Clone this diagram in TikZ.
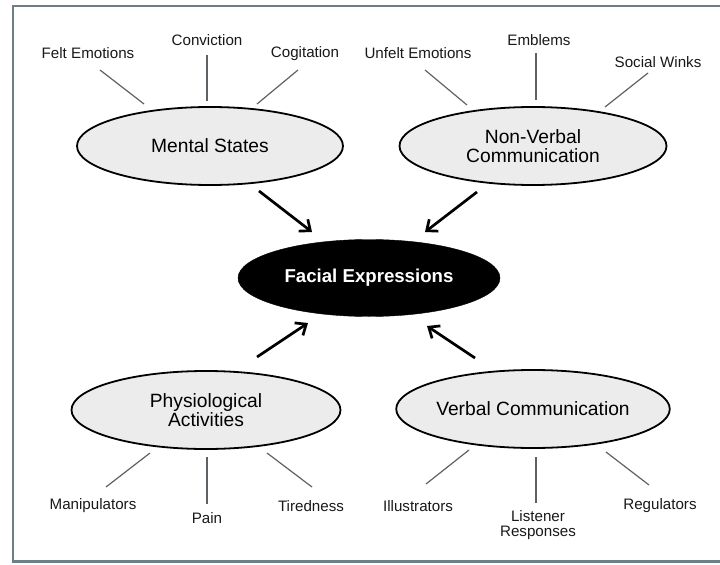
\documentclass[tikz,border=0pt]{standalone}
\usepackage{fontspec}
\setmainfont{Liberation Sans}
\usetikzlibrary{shapes.geometric,arrows.meta}
\begin{document}
\begin{tikzpicture}[x=1bp,y=-1bp,
  big/.style={ellipse,draw=black,line width=1.8bp,fill=gray!15,minimum width=#1,minimum height=78bp,inner sep=0pt,align=center,font=\fontsize{19.3}{19.5}\selectfont},
  lab/.style={font=\fontsize{15.2}{12}\selectfont,text=black!90,align=center,inner sep=0pt},
  spoke/.style={draw=black!80!cyan!60!gray,line width=1.2bp},
  arr/.style={line width=2.7bp,-{Straight Barb[length=9bp,width=15bp,line width=2.7bp]}}]
\useasboundingbox (0,0) rectangle (720,565);
\fill[white] (0,0) rectangle (720,565);
\draw[color=black!55!cyan!50!gray,line width=2.2bp] (725,6) -- (13,6) -- (13,561.5) -- (725,561.5);
% ellipses
\node[big=266bp] (ms) at (210,146) {Mental States};
\node[big=267bp] (nv) at (533,146) {Non-Verbal\\Communication};
\node[big=269bp] (pa) at (206,410) {Physiological\\Activities};
\node[big=267bp] (vc) at (533,409) {Verbal Communication};
\node[ellipse,fill=black,draw=black,minimum width=262bp,minimum height=77bp,inner sep=0pt,text=white,font=\fontsize{18.7}{17}\selectfont\bfseries] (fe) at (369,278) {Facial Expressions};
% labels
\node[lab] (l1) at (88,53) {Felt Emotions};
\node[lab] (l2) at (207,40) {Conviction};
\node[lab] (l3) at (305,54) {Cogitation};
\node[lab] (l4) at (418,53) {Unfelt Emotions};
\node[lab] (l5) at (539,40) {Emblems};
\node[lab] (l6) at (658,62) {Social Winks};
\node[lab] (l7) at (93,506) {Manipulators};
\node[lab] (l8) at (207,518) {Pain};
\node[lab] (l9) at (311,506) {Tiredness};
\node[lab] (l10) at (418,506) {Illustrators};
\node[lab,font=\fontsize{15.2}{14.5}\selectfont] (l11) at (538,525) {Listener\\Responses};
\node[lab] (l12) at (660,506) {Regulators};
% spoke endpoints
\coordinate (a1) at (100,70); \coordinate (b1) at (144,104);
\coordinate (a2) at (207,55); \coordinate (b2) at (207,101);
\coordinate (a3) at (298,70); \coordinate (b3) at (257,104);
\coordinate (a4) at (425,70); \coordinate (b4) at (467,105);
\coordinate (a5) at (536,53); \coordinate (b5) at (536,100);
\coordinate (a6) at (648,73); \coordinate (b6) at (605,107);
\coordinate (a7) at (106,487); \coordinate (b7) at (150,453);
\coordinate (a8) at (207,504); \coordinate (b8) at (207,457);
\coordinate (a9) at (312,487); \coordinate (b9) at (267,453);
\coordinate (a10) at (426,484); \coordinate (b10) at (469,450);
\coordinate (a11) at (536,503); \coordinate (b11) at (536,457);
\coordinate (a12) at (649,485); \coordinate (b12) at (606,452);
\foreach \i in {1,...,12} {\draw[spoke] (a\i) -- (b\i);}
% arrows
\coordinate (s1) at (259,191); \coordinate (t1) at (312,232);
\coordinate (s2) at (477,192); \coordinate (t2) at (425,232);
\coordinate (s3) at (257,357); \coordinate (t3) at (308,323);
\coordinate (s4) at (475,358); \coordinate (t4) at (427,326);
\foreach \i in {1,...,4} {\draw[arr] (s\i) -- (t\i);}
\end{tikzpicture}
\end{document}
